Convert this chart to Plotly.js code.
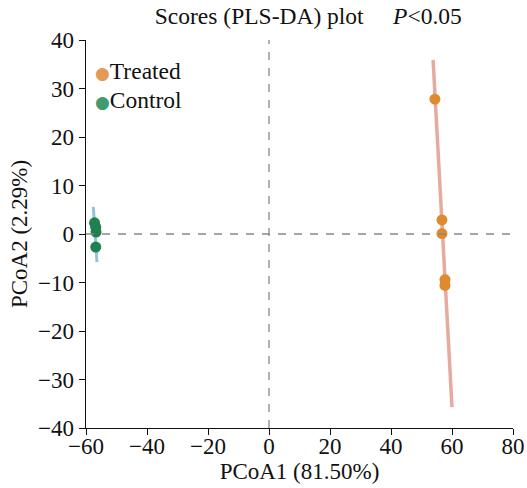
<!DOCTYPE html>
<html>
<head>
<meta charset="utf-8">
<script src="https://cdn.plot.ly/plotly-3.0.1.min.js"></script>
<style>html,body{margin:0;padding:0;background:#fff;}#chart{width:527px;height:488px;}</style>
</head>
<body>
<div id="chart"></div>
<script>
// PLS-DA scores per group
const treatedX = [54.4, 56.7, 56.7, 57.7, 57.7];
const treatedY = [27.8, 2.9, 0.1, -9.4, -10.6];
const controlX = [-57.2, -56.8, -56.7, -56.8];
const controlY = [2.3, 1.4, 0.4, -2.7];

// Fitted group axes (end points)
const treatedFitX = [53.8, 60.0];
const treatedFitY = [35.9, -35.7];
const controlFitX = [-57.6, -56.4];
const controlFitY = [5.6, -5.8];

const xTicks = [-60, -40, -20, 0, 20, 40, 60, 80];
const yTicks = [-40, -30, -20, -10, 0, 10, 20, 30, 40];

const groups = ['Treated', 'Control'];
const legendColors = ['#e39a57', '#3f9a6c'];

const font = '"Liberation Serif", "Times New Roman", serif';
const ink = '#111';

const traces = [
  {x: treatedFitX, y: treatedFitY, mode: 'lines', line: {color: '#e6aa9e', width: 3.5}, showlegend: false, hoverinfo: 'skip'},
  {x: controlFitX, y: controlFitY, mode: 'lines', line: {color: '#93c4dc', width: 3}, showlegend: false, hoverinfo: 'skip'},
  {x: treatedX, y: treatedY, mode: 'markers', name: groups[0], marker: {color: '#e08a2e', size: 11}, showlegend: false},
  {x: controlX, y: controlY, mode: 'markers', name: groups[1], marker: {color: '#1f8150', size: 11}, showlegend: false}
];

// compact key in the upper-left corner
const keyAnnotations = groups.map((g, i) => ({
  xref: 'paper', yref: 'paper', x: 0.016, y: 0.92 - i * 0.075,
  xanchor: 'left', yanchor: 'middle', showarrow: false, align: 'left',
  text: '<span style="color:' + legendColors[i] + ';font-family:DejaVu Sans;font-size:17px">●</span>' + g,
  font: {family: font, size: 23.5, color: ink}
}));

const layout = {
  width: 527, height: 488,
  margin: {l: 86, r: 14, t: 40, b: 60},
  paper_bgcolor: '#fff', plot_bgcolor: '#fff',
  font: {family: font, size: 23, color: ink},
  title: {text: 'Scores (PLS-DA) plot     <i>P</i><0.05', x: 0.585, xanchor: 'center', y: 0.985, yanchor: 'top', font: {family: font, size: 23.5, color: ink}},
  xaxis: {
    range: [-60, 80], tickvals: xTicks, ticks: 'outside', ticklen: 6, tickcolor: ink,
    showline: true, linecolor: ink, linewidth: 1.3, showgrid: false, zeroline: false,
    ticklabelstandoff: -9,
    tickfont: {family: font, size: 23, color: ink},
    title: {text: 'PCoA1 (81.50%)', font: {family: font, size: 23, color: ink}, standoff: 0}
  },
  yaxis: {
    range: [-40, 40], tickvals: yTicks, ticks: 'outside', ticklen: 6, tickcolor: ink,
    showline: true, linecolor: ink, linewidth: 1.3, showgrid: false, zeroline: false,
    tickfont: {family: font, size: 23, color: ink},
    title: {text: 'PCoA2 (2.29%)', font: {family: font, size: 23, color: ink}, standoff: 4}
  },
  shapes: [
    {type: 'line', xref: 'x', yref: 'paper', x0: 0, x1: 0, y0: 0, y1: 1, line: {color: '#888', width: 1.3, dash: '8px,8px'}},
    {type: 'line', xref: 'paper', yref: 'y', x0: 0, x1: 1, y0: 0, y1: 0, line: {color: '#888', width: 1.3, dash: '8px,8px'}}
  ],
  annotations: keyAnnotations,
  showlegend: false
};

Plotly.newPlot('chart', traces, layout, {displayModeBar: false, staticPlot: true});
</script>
</body>
</html>
